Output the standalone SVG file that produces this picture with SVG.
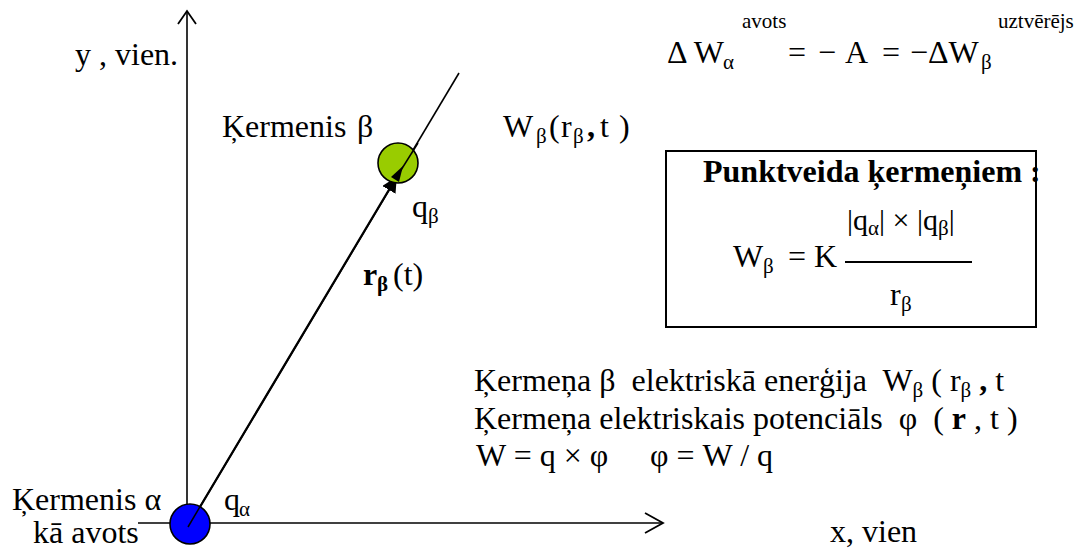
<svg xmlns="http://www.w3.org/2000/svg" width="1084" height="550" viewBox="0 0 1084 550" font-family="Liberation Serif, serif">
<style>
text{font-family:"Liberation Serif","Times New Roman",serif;font-size:32px;fill:#000;white-space:pre}
.s{font-size:21px}
.b{font-weight:bold}
.ax{stroke:#000;stroke-width:1.6;fill:none}
.chev{stroke:#000;stroke-width:1.8;fill:none;stroke-linejoin:miter}
</style>
<defs>
<marker id="tri" viewBox="0 0 10 10" refX="9" refY="5" markerWidth="7" markerHeight="7" markerUnits="strokeWidth" orient="auto">
<path d="M0,0 L10,5 L0,10 z" fill="#000"/>
</marker>
</defs>
<rect width="1084" height="550" fill="#fff"/>
<g id="connectors">
<line class="ax" x1="187" y1="523" x2="187" y2="12"/>
<polyline class="chev" points="178,24 187,11 196,24"/>
<line class="ax" x1="138" y1="523" x2="662" y2="523"/>
<polyline class="chev" points="645,513 663,523 645,533"/>
<line class="ax" x1="188" y1="527" x2="459" y2="73" stroke-width="1.5"/>
<line x1="188" y1="527" x2="396" y2="178" stroke="#000" stroke-width="2.2" marker-end="url(#tri)"/>
</g>
<g id="body-alpha">
<circle cx="190" cy="524" r="20" fill="#0000ff" stroke="#000" stroke-width="1.6"/>
<line x1="188" y1="527" x2="201" y2="505" stroke="#000" stroke-width="1.5"/>
<text x="12" y="510">Ķermenis α</text>
<text x="33" y="543">kā avots</text>
<text x="224" y="510">q</text><text class="s" x="239" y="516">α</text>
</g>
<g id="body-beta">
<circle cx="398" cy="163" r="20" fill="#99cc00" stroke="#000" stroke-width="1.6"/>
<line x1="396" y1="178" x2="418" y2="143" stroke="#000" stroke-width="1.5"/>
<path d="M403,166 L391,177 L399,182 z" fill="#000"/>
<text x="222" y="137">Ķermenis</text><text x="357" y="137">β</text>
<text x="412" y="217">q</text><text class="s" x="428" y="223">β</text>
<text x="503" y="137">W</text><text class="s" x="536" y="143">β</text>
<text x="549" y="137">(</text><text x="561" y="137">r</text><text class="s" x="573" y="143">β</text>
<text class="b" x="587" y="137">,</text><text x="600" y="137">t</text><text x="619" y="137">)</text>
</g>
<g id="vector-label">
<text class="b" x="363" y="285">r</text><text class="s b" x="377" y="291">β</text><text x="393" y="285">(t)</text>
</g>
<g id="axis-labels">
<text x="75" y="65">y , vien.</text>
<text x="830" y="542">x, vien</text>
</g>
<g id="energy-balance">
<text x="667" y="63">Δ W</text><text class="s" x="723" y="69">α</text><text class="s" x="742" y="28">avots</text>
<text x="788" y="63">=</text><text x="818" y="63">−</text><text x="845" y="63">A</text><text x="882" y="63">=</text><text x="910" y="63">−</text><text x="928" y="63">ΔW</text>
<text class="s" x="981" y="69">β</text><text class="s" x="998" y="28">uztvērējs</text>
</g>
<g id="formula-box">
<rect x="666" y="151" width="370" height="176" fill="none" stroke="#000" stroke-width="2"/>
<text class="b" x="703" y="182">Punktveida ķermeņiem :</text>
<text x="847" y="230" style="font-size:30px">|q<tspan class="s" dy="5">α</tspan><tspan dy="-5">| × |q</tspan><tspan class="s" dy="5">β</tspan><tspan dy="-5">|</tspan></text>
<text x="733" y="267">W</text><text class="s" x="763" y="273">β</text><text x="788" y="267">= K</text>
<line x1="845" y1="262" x2="972" y2="262" stroke="#000" stroke-width="2"/>
<text x="890" y="305">r</text><text class="s" x="901" y="311">β</text>
</g>
<g id="notes">
<text x="474" y="391">Ķermeņa β  elektriskā enerģija  W<tspan class="s" dy="6">β</tspan><tspan dy="-6"> ( r</tspan><tspan class="s" dy="6">β</tspan><tspan dy="-6"> </tspan><tspan class="b">,</tspan> t</text>
<text x="474" y="429">Ķermeņa elektriskais potenciāls  φ  ( <tspan class="b">r</tspan> , t )</text>
<text x="476" y="466">W = q × φ</text>
<text x="650" y="466">φ = W / q</text>
</g>
</svg>
